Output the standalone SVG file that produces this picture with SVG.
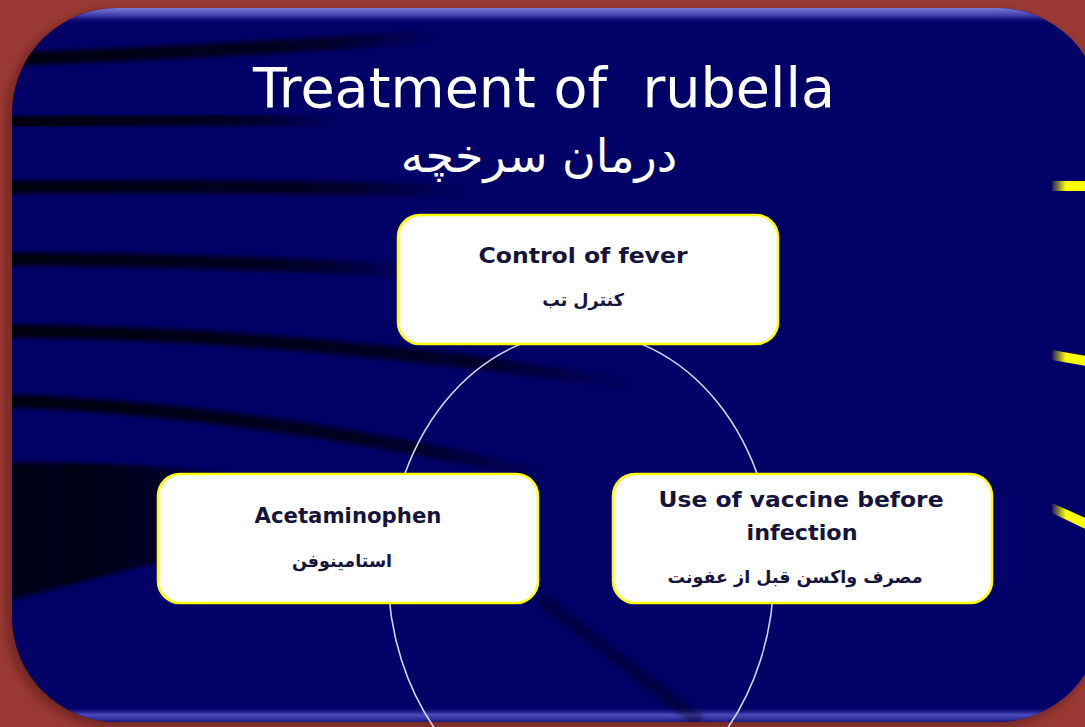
<svg xmlns="http://www.w3.org/2000/svg" width="1085" height="727" viewBox="0 0 1085 727">
<style>
.box{fill:#ffffff;stroke:#ffff00;stroke-width:2.5}
.en{font-family:"DejaVu Sans","Liberation Sans",sans-serif;font-weight:bold;font-size:22px;fill:#14143c;text-anchor:middle}
.fa{font-family:"DejaVu Sans","Noto Sans",sans-serif;font-weight:bold;font-size:17.5px;fill:#14143c;text-anchor:middle}
.streak{fill:none;stroke:url(#fadeR);stroke-linecap:round;filter:url(#soft)}
.ymark{fill:url(#yel)}
</style>
<defs>
<clipPath id="slideClip"><rect x="12" y="8" width="1090" height="714" rx="105" ry="105"/></clipPath>
<filter id="soft" x="-10%" y="-200%" width="120%" height="500%"><feGaussianBlur stdDeviation="2"/></filter>
<filter id="shadow" x="-10%" y="-10%" width="120%" height="120%"><feGaussianBlur stdDeviation="6"/></filter>
<linearGradient id="fadeR" x1="0" y1="0" x2="1" y2="0">
<stop offset="0" stop-color="#00000a" stop-opacity="1"/>
<stop offset="0.65" stop-color="#00000a" stop-opacity="0.8"/>
<stop offset="1" stop-color="#00000a" stop-opacity="0"/>
</linearGradient>
<linearGradient id="yel" x1="0" y1="0" x2="1" y2="0">
<stop offset="0" stop-color="#ffff00" stop-opacity="0.1"/>
<stop offset="0.35" stop-color="#ffff00" stop-opacity="1"/>
<stop offset="1" stop-color="#ffff00"/>
</linearGradient>
<linearGradient id="topHi" x1="0" y1="0" x2="0" y2="1">
<stop offset="0" stop-color="#7a7ad8"/>
<stop offset="0.5" stop-color="#3a3aa8"/>
<stop offset="1" stop-color="#010066" stop-opacity="0"/>
</linearGradient>
<linearGradient id="botHi" x1="0" y1="0" x2="0" y2="1">
<stop offset="0" stop-color="#010066" stop-opacity="0"/>
<stop offset="0.55" stop-color="#4c4cc0"/>
<stop offset="1" stop-color="#1a1a80"/>
</linearGradient>
<linearGradient id="darkWedge" x1="0" y1="0" x2="1" y2="0">
<stop offset="0" stop-color="#000008" stop-opacity="0.95"/>
<stop offset="0.5" stop-color="#000008" stop-opacity="0.6"/>
<stop offset="1" stop-color="#000008" stop-opacity="0"/>
</linearGradient>
</defs>

<rect x="0" y="0" width="1085" height="727" fill="#9b3a35"/>
<rect x="8" y="12" width="1090" height="714" rx="105" fill="#3a0c0c" opacity="0.55" filter="url(#shadow)"/>

<g id="slide" clip-path="url(#slideClip)">
<rect x="12" y="8" width="1090" height="714" fill="#010066"/>
<rect x="12" y="8" width="1090" height="16" fill="url(#topHi)"/>
<rect x="12" y="706" width="1090" height="16" fill="url(#botHi)"/>
<path class="streak" d="M 12 59 Q 220 52 440 36" stroke-width="13"/>
<path class="streak" d="M 12 122 Q 180 118 340 121" stroke-width="13"/>
<path class="streak" d="M 12 187 Q 250 185 470 191" stroke-width="13"/>
<path class="streak" d="M 12 259 Q 220 260 420 271" stroke-width="13"/>
<path class="streak" d="M 12 331 Q 320 334 640 386" stroke-width="13"/>
<path class="streak" d="M 12 401 Q 260 410 560 478" stroke-width="13"/>
<path d="M 12 462 Q 200 462 340 490 L 340 520 Q 160 560 12 600 Z" fill="url(#darkWedge)" filter="url(#soft)"/>
<path d="M 540 598 L 700 722" stroke="#00000f" stroke-width="14" opacity="0.35" filter="url(#soft)"/>
<rect class="ymark" x="1052" y="181" width="40" height="10"/>
<polygon class="ymark" points="1052,350 1092,357 1092,367 1052,360"/>
<polygon class="ymark" points="1052,503 1092,521 1092,532 1052,513"/>
</g>

<g id="title">
<text x="544" y="107" xml:space="preserve" font-family="'DejaVu Sans','Liberation Sans',sans-serif" font-size="55" fill="#ffffff" text-anchor="middle" textLength="582" lengthAdjust="spacingAndGlyphs">Treatment of  rubella</text>
<text x="539" y="172" font-family="'DejaVu Sans','Noto Sans',sans-serif" font-size="46" fill="#ffffff" text-anchor="middle">درمان سرخچه</text>
</g>

<g id="connectors">
<ellipse cx="581" cy="572" rx="193" ry="240" fill="none" stroke="#d4d4ee" stroke-width="1.6"/>
</g>

<g id="node-control">
<rect class="box" x="398" y="215" width="380" height="129" rx="22"/>
<text class="en" x="583" y="263" textLength="209" lengthAdjust="spacingAndGlyphs">Control of fever</text>
<text class="fa" x="583" y="306">کنترل تب</text>
</g>

<g id="node-acetaminophen">
<rect class="box" x="158" y="474" width="380" height="129" rx="22"/>
<text class="en" x="348" y="523" textLength="187" lengthAdjust="spacingAndGlyphs">Acetaminophen</text>
<text class="fa" x="342" y="567">استامینوفن</text>
</g>

<g id="node-vaccine">
<rect class="box" x="613" y="474" width="379" height="129" rx="22"/>
<text class="en" x="801" y="507" textLength="285" lengthAdjust="spacingAndGlyphs">Use of vaccine before</text>
<text class="en" x="802" y="540" textLength="111" lengthAdjust="spacingAndGlyphs">infection</text>
<text class="fa" x="795" y="583">مصرف واکسن قبل از عفونت</text>
</g>
</svg>
